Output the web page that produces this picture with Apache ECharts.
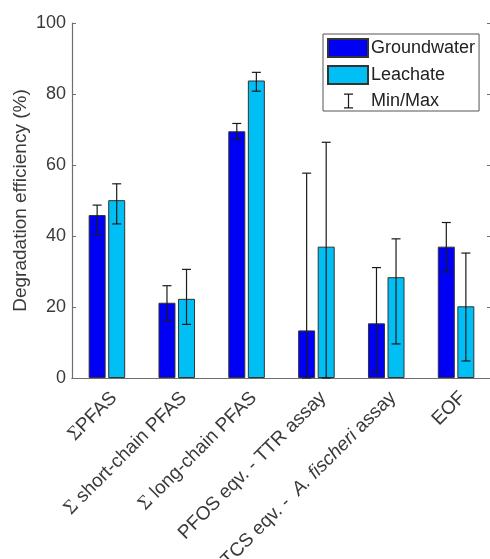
<!DOCTYPE html>
<html>
<head>
<meta charset="utf-8">
<script src="https://cdn.jsdelivr.net/npm/echarts@6/dist/echarts.min.js"></script>
<style>
  html, body { margin: 0; padding: 0; background: #fff; }
  #chart { width: 490px; height: 559px; }
</style>
</head>
<body>
<div id="chart"></div>
<script>
// 类别
const categories = ['ΣPFAS', 'Σ short-chain PFAS', 'Σ long-chain PFAS', 'PFOS eqv. - TTR assay', 'TCS eqv. -  A. fischeri assay', 'EOF'];

// 平均值
const groundwater = [45.9, 21.2, 69.5, 13.4, 15.4, 37.0];
const leachate = [50.1, 22.3, 83.8, 37.0, 28.4, 20.2];

// 最小/最大
const gwMin = [40.3, 16.2, 67.3, 0, 1.7, 29.9];
const gwMax = [48.7, 26.0, 71.7, 57.7, 31.1, 43.8];
const leMin = [43.4, 15.1, 80.8, 0, 9.6, 4.8];
const leMax = [54.7, 30.6, 86.1, 66.4, 39.2, 35.2];

const yTicks = [0, 20, 40, 60, 80, 100];

const FONT = 'Liberation Sans, Arial, sans-serif';
const BAR_W = 17;
const BAR_GAP = 0.15;

// 误差线数据: [类别, 最小, 最大, 系列]
let errData = [];
categories.forEach(function(c, i) {
    errData.push([i, gwMin[i], gwMax[i], 0]);
    errData.push([i, leMin[i], leMax[i], 1]);
});

function formatLabel(v) {
    return v.replace('Σ', '{s|Σ}').replace('A. fischeri', '{i|A. fischeri}');
}

function renderErr(params, api) {
    const idx = api.value(0);
    const which = api.value(3);
    const off = (BAR_W / 2 + BAR_W * BAR_GAP / 2) * (which === 0 ? -1 : 1);
    const lo = api.coord([idx, api.value(1)]);
    const hi = api.coord([idx, api.value(2)]);
    const x = lo[0] + off;
    const cap = 4.5;
    const style = { stroke: '#1a1a1a', lineWidth: 1.2 };
    return {
        type: 'group',
        children: [
            { type: 'line', shape: { x1: x, y1: lo[1], x2: x, y2: hi[1] }, style: style },
            { type: 'line', shape: { x1: x - cap, y1: hi[1], x2: x + cap, y2: hi[1] }, style: style },
            { type: 'line', shape: { x1: x - cap, y1: lo[1], x2: x + cap, y2: lo[1] }, style: style }
        ]
    };
}

const axisGray = '#6e6e6e';
const textGray = '#3a3a3a';

const chart = echarts.init(document.getElementById('chart'));
chart.setOption({
    backgroundColor: '#fff',
    animation: false,
    textStyle: { fontFamily: FONT },
    grid: { left: 72, top: 23, width: 419, height: 355, containLabel: false, outerBoundsMode: 'none' },
    legend: {
        orient: 'vertical',
        left: 323,
        top: 34,
        itemWidth: 40,
        itemHeight: 18,
        itemGap: 7,
        padding: [4, 4, 1, 4],
        borderColor: '#555',
        borderWidth: 1,
        backgroundColor: '#fff',
        textStyle: { fontFamily: FONT, fontSize: 18, color: '#222', padding: [0, 0, 0, -2] },
        data: [
            { name: 'Groundwater', icon: 'rect' },
            { name: 'Leachate', icon: 'rect' },
            {
                name: 'Min/Max',
                icon: 'path://M0,0h0.01v0.01h-0.01z M39.99,17.99h0.01v0.01h-0.01z M16,1.5h9v1.2h-9z M19.9,1.5h1.2v15h-1.2z M16,15.3h9v1.2h-9z',
                itemStyle: { color: '#1a1a1a', borderWidth: 0 }
            }
        ]
    },
    xAxis: [
        {
            type: 'category',
            data: categories,
            position: 'bottom',
            axisLine: { lineStyle: { color: axisGray, width: 1.2 } },
            axisTick: { inside: true, alignWithLabel: true, length: 4, lineStyle: { color: axisGray } },
            axisLabel: {
                rotate: 45,
                interval: 0,
                margin: 10,
                fontSize: 19,
                color: textGray,
                fontFamily: FONT,
                verticalAlign: 'top',
                formatter: formatLabel,
                rich: {
                    s: { fontFamily: 'Liberation Serif, serif', fontSize: 20, color: textGray, verticalAlign: 'top' },
                    i: { fontStyle: 'italic', fontSize: 19, fontFamily: FONT, color: textGray, verticalAlign: 'top' }
                }
            }
        },
        {
            type: 'category',
            data: categories,
            position: 'top',
            axisLine: { lineStyle: { color: axisGray, width: 1.2 } },
            axisTick: { inside: true, alignWithLabel: true, length: 4, lineStyle: { color: axisGray } },
            axisLabel: { show: false }
        }
    ],
    yAxis: [
        {
            type: 'value',
            min: yTicks[0],
            max: yTicks[yTicks.length - 1],
            interval: 20,
            name: 'Degradation efficiency (%)',
            nameLocation: 'middle',
            nameGap: 42,
            nameMoveOverlap: false,
            nameTextStyle: { fontSize: 19, color: textGray, fontFamily: FONT },
            axisLine: { show: true, lineStyle: { color: axisGray, width: 1.2 } },
            axisTick: { show: true, inside: true, length: 4, lineStyle: { color: axisGray } },
            axisLabel: { fontSize: 18, color: textGray, margin: 6, fontFamily: FONT },
            splitLine: { show: false }
        },
        {
            type: 'value',
            position: 'right',
            min: yTicks[0],
            max: yTicks[yTicks.length - 1],
            interval: 20,
            axisLine: { show: true, lineStyle: { color: axisGray, width: 1.2 } },
            axisTick: { show: true, inside: true, length: 4, lineStyle: { color: axisGray } },
            axisLabel: { show: false },
            splitLine: { show: false }
        }
    ],
    series: [
        {
            name: 'Groundwater',
            type: 'bar',
            data: groundwater,
            barWidth: BAR_W,
            barGap: (BAR_GAP * 100) + '%',
            itemStyle: { color: '#0000f5', borderColor: '#333', borderWidth: 1 }
        },
        {
            name: 'Leachate',
            type: 'bar',
            data: leachate,
            barWidth: BAR_W,
            barGap: (BAR_GAP * 100) + '%',
            itemStyle: { color: '#00bff5', borderColor: '#333', borderWidth: 1 }
        },
        {
            name: 'Min/Max',
            type: 'custom',
            renderItem: renderErr,
            data: errData,
            encode: { x: 0, y: [1, 2] },
            itemStyle: { color: '#1a1a1a' },
            z: 5
        }
    ]
});
</script>
</body>
</html>
